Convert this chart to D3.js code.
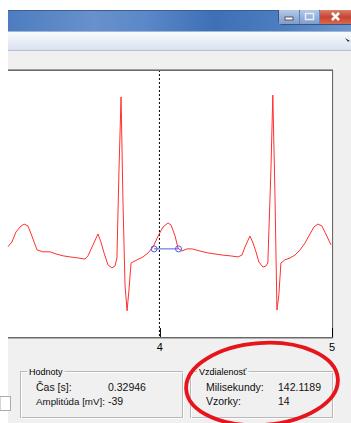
<!DOCTYPE html>
<html>
<head>
<meta charset="utf-8">
<script src="https://cdn.jsdelivr.net/npm/d3@7"></script>
<style>
    body { margin: 0; background: #fff; }
    svg { display: block; font-family: "Liberation Sans", Arial, sans-serif; }
</style>
</head>
<body>
<div id="ecg"></div>
<script>
// ECG trace: time [s] and amplitude
const times = [3.120, 3.143, 3.166, 3.190, 3.213, 3.236, 3.259, 3.289, 3.323, 3.364,
               3.399, 3.440, 3.480, 3.527, 3.567, 3.585, 3.614, 3.643, 3.660, 3.678,
               3.701, 3.724, 3.742, 3.753, 3.765, 3.777, 3.788, 3.800, 3.812, 3.823,
               3.835, 3.870, 3.905, 3.934, 3.963, 3.992, 4.021, 4.050, 4.067, 4.091,
               4.108, 4.131, 4.160, 4.189, 4.236, 4.282, 4.323, 4.364, 4.410, 4.457,
               4.480, 4.497, 4.526, 4.544, 4.561, 4.578, 4.601, 4.619, 4.630, 4.648,
               4.659, 4.671, 4.683, 4.694, 4.706, 4.729, 4.759, 4.788, 4.817, 4.846,
               4.875, 4.898, 4.921, 4.944, 4.967, 4.997];
const amplitudes = [18, 36, 73, 92, 103, 96, 58, 6, -1, -1,
                    -9, -16, -20, -24, -28, -16, 25, 66, 36, -5,
                    -50, -61, -54, -24, 306, 579, 193, -125, -222, -144,
                    -43, -31, -20, -5, 17, 58, 92, 107, 100, 58,
                    13, 2, 10, 10, 2, -5, -9, -13, -16, -20,
                    -13, 17, 58, 32, -1, -39, -58, -54, -43, 306,
                    586, 230, -219, -163, -43, -31, -24, -13, 6, 32,
                    66, 92, 103, 96, 66, 25];

// distance cursor (two markers) and time cursor
const cursorTimes = [3.969, 4.111];
const cursorAmps = [10, 10];
const timeCursor = 4.0;
const xTicks = [4, 5];

// readouts
const valueLabels = ["Čas [s]:", "Amplitúda [mV]:"];
const valueTexts = ["0.32946", "-39"];
const distLabels = ["Milisekundy:", "Vzorky:"];
const distTexts = ["142.1189", "14"];

const W = 351, H = 423;
const plot = {left: 8, right: 332, top: 70, bottom: 337};

let svg = d3.select("#ecg").append("svg")
    .attr("width", W)
    .attr("height", H);

let defs = svg.append("defs");

let tg = defs.append("linearGradient").attr("id", "title").attr("x1", 0).attr("x2", 1);
[["0", "#4d7dbf"], ["0.25", "#6891cd"], ["0.4", "#5a88c8"], ["0.6", "#3f6fb6"], ["0.8", "#4c7ec0"], ["1", "#6d97d0"]]
    .forEach(s => tg.append("stop").attr("offset", s[0]).attr("stop-color", s[1]));

let bg = defs.append("linearGradient").attr("id", "btn").attr("x1", 0).attr("x2", 0).attr("y1", 0).attr("y2", 1);
bg.append("stop").attr("offset", 0).attr("stop-color", "#b4c9e6");
bg.append("stop").attr("offset", 1).attr("stop-color", "#7d9dcc");

let cg = defs.append("linearGradient").attr("id", "close").attr("x1", 0).attr("x2", 0).attr("y1", 0).attr("y2", 1);
cg.append("stop").attr("offset", 0).attr("stop-color", "#d9806f");
cg.append("stop").attr("offset", 0.5).attr("stop-color", "#c8432f");
cg.append("stop").attr("offset", 1).attr("stop-color", "#d66a52");

let mg = defs.append("linearGradient").attr("id", "menu").attr("x1", 0).attr("x2", 0).attr("y1", 0).attr("y2", 1);
mg.append("stop").attr("offset", 0).attr("stop-color", "#fbfcfe");
mg.append("stop").attr("offset", 1).attr("stop-color", "#d9e2f0");

//Window chrome
svg.append("rect").attr("x", 8).attr("y", 10).attr("width", W - 8).attr("height", H - 10).attr("fill", "#f0f0f0");
svg.append("rect").attr("x", 8).attr("y", 10).attr("width", W - 8).attr("height", 21).attr("fill", "url(#title)");
svg.append("line").attr("x1", 8).attr("x2", W).attr("y1", 10.5).attr("y2", 10.5).attr("stroke", "#3a5f95");
svg.append("rect").attr("x", 8).attr("y", 31).attr("width", W - 8).attr("height", 19).attr("fill", "url(#menu)");
svg.append("line").attr("x1", 8).attr("x2", W).attr("y1", 31.5).attr("y2", 31.5).attr("stroke", "#9fb6d6");
svg.append("line").attr("x1", 8).attr("x2", W).attr("y1", 50.5).attr("y2", 50.5).attr("stroke", "#b8bfc8");

let btns = svg.append("g");
btns.append("path")
    .attr("d", "M278.5,10 V21 Q278.5,24.5 282,24.5 H351")
    .attr("fill", "none").attr("stroke", "#3b5478");
btns.append("rect").attr("x", 279).attr("y", 10).attr("width", 20).attr("height", 14).attr("fill", "url(#btn)");
btns.append("rect").attr("x", 300).attr("y", 10).attr("width", 19).attr("height", 14).attr("fill", "url(#btn)");
btns.append("rect").attr("x", 320).attr("y", 10).attr("width", 31).attr("height", 14).attr("fill", "url(#close)");
btns.append("rect").attr("x", 285).attr("y", 17).attr("width", 8).attr("height", 3).attr("fill", "#fff").attr("stroke", "#556", "0.5");
btns.append("rect").attr("x", 305.5).attr("y", 13.5).attr("width", 8).attr("height", 6).attr("fill", "none").attr("stroke", "#e8eef8").attr("stroke-width", 1.5);
btns.append("path").attr("d", "M332,13 L339,20 M339,13 L332,20")
    .attr("stroke", "#fff").attr("stroke-width", 2.5);
svg.append("path").attr("d", "M345,38 L350,41 L348,41.5 L349,43 Z").attr("fill", "#222");

//Plot area
svg.append("rect")
    .attr("x", plot.left).attr("y", plot.top)
    .attr("width", plot.right - plot.left).attr("height", plot.bottom - plot.top)
    .attr("fill", "#fff");

let xScale = d3.scaleLinear()
    .domain([3.12, 5.0])
    .range([plot.left, plot.right - 0.5]);

let yScale = d3.scaleLinear()
    .domain([-320, 680])
    .range([plot.bottom, plot.top]);

let g = svg.append("g");

g.append("line")
    .attr("x1", xScale(timeCursor)).attr("x2", xScale(timeCursor))
    .attr("y1", plot.top).attr("y2", plot.bottom)
    .attr("stroke", "#000").attr("stroke-dasharray", "2,2");

let ecg = times.map((t, i) => ({t: t, a: amplitudes[i]}));

let lineGraph = d3.line()
    .x(d => xScale(d.t))
    .y(d => yScale(d.a));

g.append("path")
    .datum(ecg)
    .attr("d", lineGraph)
    .attr("fill", "none")
    .attr("stroke", "#ff3030")
    .attr("stroke-width", 1)
    .attr("stroke-linejoin", "round");

let cursor = cursorTimes.map((t, i) => ({t: t, a: cursorAmps[i]}));
g.append("path")
    .datum(cursor)
    .attr("d", lineGraph)
    .attr("fill", "none")
    .attr("stroke", "#4a5fe6");
g.selectAll("circle.marker")
    .data(cursor)
    .enter().append("circle")
    .attr("class", "marker")
    .attr("cx", d => xScale(d.t))
    .attr("cy", d => yScale(d.a))
    .attr("r", 3)
    .attr("fill", "none")
    .attr("stroke", "#4a5fe6");

//Frame of the plot
svg.append("line").attr("x1", plot.left).attr("x2", plot.right + 1).attr("y1", plot.top - 0.5).attr("y2", plot.top - 0.5).attr("stroke", "#a0a0a0");
svg.append("line").attr("x1", plot.left).attr("x2", plot.right).attr("y1", plot.top + 0.5).attr("y2", plot.top + 0.5).attr("stroke", "#696969");
svg.append("line").attr("x1", plot.right + 0.5).attr("x2", plot.right + 0.5).attr("y1", plot.top).attr("y2", plot.bottom + 1).attr("stroke", "#696969");
svg.append("line").attr("x1", plot.right + 1.5).attr("x2", plot.right + 1.5).attr("y1", plot.top).attr("y2", plot.bottom + 1).attr("stroke", "#e3e3e3");
svg.append("line").attr("x1", plot.left).attr("x2", plot.right + 1).attr("y1", plot.bottom + 0.5).attr("y2", plot.bottom + 0.5).attr("stroke", "#696969");
svg.append("line").attr("x1", plot.left).attr("x2", plot.right + 1).attr("y1", plot.bottom + 1.5).attr("y2", plot.bottom + 1.5).attr("stroke", "#b0b0b0");

//x Axis
let xAxis = svg.append("g")
    .attr("transform", "translate(0," + plot.bottom + ")")
    .call(d3.axisBottom(xScale).tickValues(xTicks).tickFormat(d3.format("d")).tickSizeInner(-9).tickSizeOuter(0).tickPadding(6));
xAxis.select(".domain").remove();
xAxis.selectAll("line").attr("stroke", "#000").attr("transform", "translate(0.5,0)");
xAxis.selectAll("text")
    .attr("font-family", "'Liberation Sans', Arial, sans-serif")
    .attr("font-size", 11)
    .attr("fill", "#000");

//Group boxes
function groupBox(x, y, w, h, title, labels, values, valueX)
{
    let box = svg.append("g").attr("transform", "translate(" + x + "," + y + ")");
    box.append("rect").attr("x", 0.5).attr("y", 0.5).attr("width", w).attr("height", h)
        .attr("fill", "none").attr("stroke", "#b9b9b9");
    box.append("rect").attr("x", 1.5).attr("y", 1.5).attr("width", w).attr("height", h)
        .attr("fill", "none").attr("stroke", "#fff").attr("opacity", 0.8);
    let t = box.append("text")
        .attr("x", 9).attr("y", 4)
        .attr("font-size", 9)
        .attr("fill", "#000")
        .text(title);
    let tw = t.node().getComputedTextLength();
    box.insert("rect", "text").attr("x", 7).attr("y", -2).attr("width", tw + 4).attr("height", 6).attr("fill", "#f0f0f0");
    labels.forEach((l, i) => {
        let lab = box.append("text").attr("x", 16).attr("y", 20 + i * 14)
            .attr("font-size", 10.5).attr("fill", "#111").text(l);
        //shrink a label that would run into its value
        let room = valueX - 16 - 3;
        let len = lab.node().getComputedTextLength();
        if (len > room)
            lab.attr("font-size", (10.5 * room / len).toFixed(2));
        box.append("text").attr("x", valueX).attr("y", 20 + i * 14)
            .attr("font-size", 10.5).attr("fill", "#111").text(values[i]);
    });
}

svg.append("rect").attr("x", 0).attr("y", 396.5).attr("width", 10.5).attr("height", 14)
    .attr("fill", "#fff").attr("stroke", "#ababab");

groupBox(20, 371, 162, 46, "Hodnoty", valueLabels, valueTexts, 88);
groupBox(190, 371, 142, 46, "Vzdialenosť", distLabels, distTexts, 88);

//Hand drawn red ellipse
svg.append("ellipse")
    .attr("transform", "translate(262,384) rotate(-4)")
    .attr("rx", 76).attr("ry", 41)
    .attr("fill", "none")
    .attr("stroke", "#e8141c")
    .attr("stroke-width", 3.8);
</script>
</body>
</html>
